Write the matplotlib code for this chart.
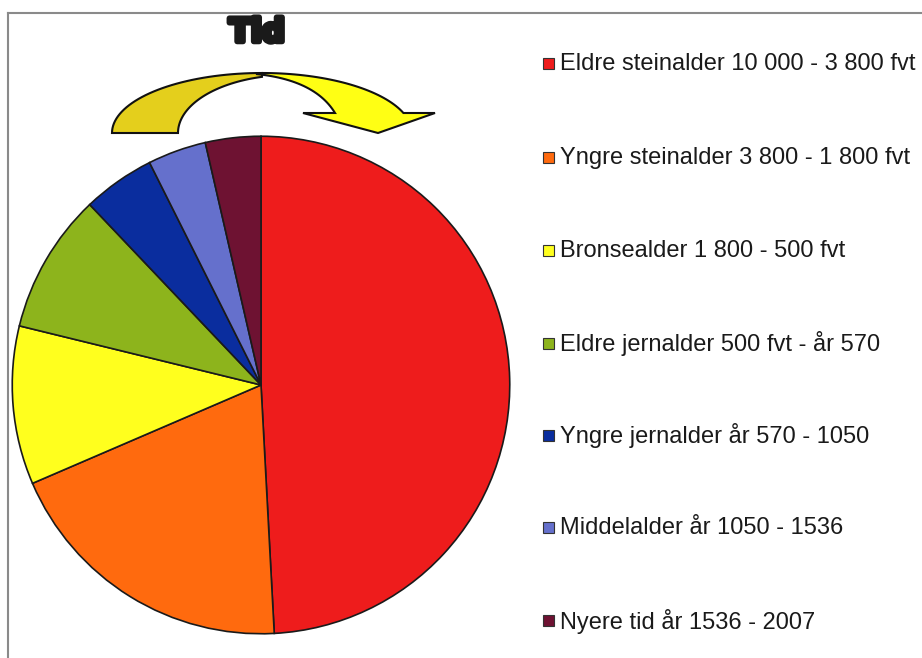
import numpy as np
import matplotlib.pyplot as plt
import matplotlib.patheffects as pe
from matplotlib.patches import Polygon, Rectangle

# Data (share of finds per period, %)
periods = ['Eldre steinalder 10 000 - 3 800 fvt',
           'Yngre steinalder 3 800 - 1 800 fvt',
           'Bronsealder 1 800 - 500 fvt',
           'Eldre jernalder 500 fvt - år 570',
           'Yngre jernalder år 570 - 1050',
           'Middelalder år 1050 - 1536',
           'Nyere tid år 1536 - 2007']
shares = [49.2, 19.4, 10.3, 9.1, 4.7, 3.8, 3.6]
colors = ['#ee1c1c', '#ff6a0e', '#ffff1e', '#8db41c',
          '#0a2d9e', '#6570cc', '#6e1232']
title = 'Tid'

W, H = 922, 658
fig = plt.figure(figsize=(W / 100, H / 100), dpi=100)

# overlay axes in pixel coordinates for frame, title, arrow and legend
ov = fig.add_axes([0, 0, 1, 1])
ov.set_xlim(0, W)
ov.set_ylim(H, 0)
ov.axis('off')

# frame lines
ov.plot([8, W], [13, 13], color='#8a8a8a', lw=1.5)
ov.plot([8, 8], [13, H], color='#8a8a8a', lw=1.5)

# pie
cx, cy, r = 261, 385, 250
pax = fig.add_axes([(cx - r) / W, (H - cy - r) / H, 2 * r / W, 2 * r / H])
pax.pie(shares, colors=colors, startangle=90, counterclock=False,
        wedgeprops=dict(edgecolor='#1a1a1a', linewidth=1.2))
pax.set_aspect('equal')
pax.set_xlim(-1.005, 1.005)
pax.set_ylim(-1.005, 1.005)

# title
ov.text(257, 33, title, ha='center', va='center', fontsize=23,
        fontweight='bold', family='DejaVu Sans', color='#1a1a1a',
        path_effects=[pe.withStroke(linewidth=4, foreground='#1a1a1a')])

# curved arrow ("time"), back part gold
acx, acy = 262, 133
orx, ory = 150, 60
t = np.linspace(np.pi, np.pi / 2, 40)
outer_left = np.c_[acx + orx * np.cos(t), acy - ory * np.sin(t)]
t2 = np.linspace(np.arccos(-0.25), np.pi, 40)
inner_left = np.c_[290 + 112 * np.cos(t2), acy - 58 * np.sin(t2)]
ov.add_patch(Polygon(np.r_[outer_left, inner_left], closed=True,
                     facecolor='#e4cf1c', edgecolor='#111111', lw=1.5))

# front part with head, bright yellow
end_ang = np.arcsin(20 / ory)
t3 = np.linspace(np.pi / 2, end_ang, 40)
outer_right = np.c_[acx + orx * np.cos(t3), acy - ory * np.sin(t3)]
head = np.array([[435, 113], [378, 133], [303, 113], [335, 113]])
s = np.linspace(1, 0, 30)
p0, p1, p2 = np.array([256, 74]), np.array([315, 80]), np.array([335, 113])
bez = ((1 - s) ** 2)[:, None] * p0 + (2 * s * (1 - s))[:, None] * p1 + (s ** 2)[:, None] * p2
ov.add_patch(Polygon(np.r_[outer_right, head, bez], closed=True,
                     facecolor='#ffff14', edgecolor='#111111', lw=1.5))

# legend
ys = [64, 158, 251, 344, 436, 528, 621]
for lab, col, y in zip(periods, colors, ys):
    ov.add_patch(Rectangle((543, y - 6), 11, 11, facecolor=col,
                           edgecolor='#333333', lw=0.8))
    ov.text(560, y, lab, ha='left', va='center', fontsize=17,
            family='Liberation Sans', color='#1a1a1a')

fig.savefig('out.png', dpi=100)
